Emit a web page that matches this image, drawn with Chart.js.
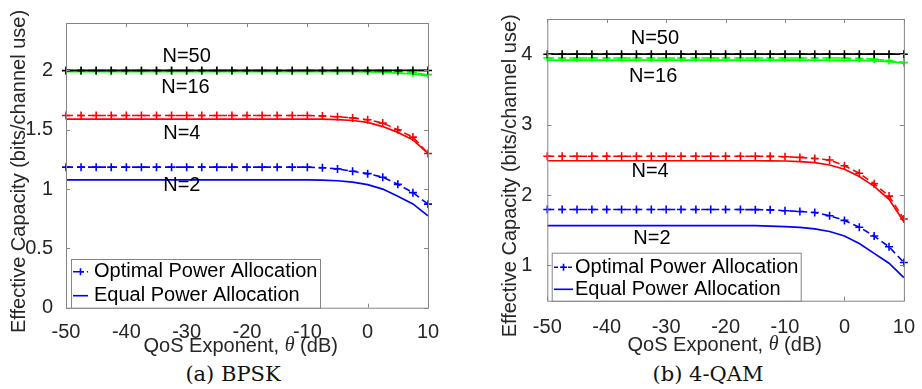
<!DOCTYPE html>
<html>
<head>
<meta charset="utf-8">
<script src="https://cdn.jsdelivr.net/npm/chart.js@4.4.1/dist/chart.umd.min.js"></script>
<style>
  body { margin: 0; background: #fff; width: 922px; height: 389px; position: relative; overflow: hidden; }
  .box { position: absolute; top: 0; }
  .cap { position: absolute; top: 362px; font-family: "DejaVu Serif", "Liberation Serif", serif; font-size: 21px; color: #111; text-align: center; width: 300px; }
</style>
</head>
<body>
<div class="box" style="left:0px"><canvas id="bpsk" width="461" height="360"></canvas></div>
<div class="box" style="left:461px"><canvas id="qam" width="461" height="360"></canvas></div>
<div class="cap" style="left:83px">(a) BPSK</div>
<div class="cap" style="left:558px">(b) 4-QAM</div>
<script>
// QoS exponent (dB)
var theta = [-50, -47.5, -45, -42.5, -40, -37.5, -35, -32.5, -30, -27.5, -25, -22.5, -20,
    -17.5, -15, -12.5, -10, -7.5, -5, -2.5, 0, 2.5, 5, 7.5, 10];
var xTicks = [-50, -40, -30, -20, -10, 0, 10];
var bpskTicks = [0, 0.5, 1, 1.5, 2];
var qamTicks = [1, 2, 3, 4];
var groups = ['N=50', 'N=16', 'N=4', 'N=2'];
var groupColors = ['#000000', '#00ff00', '#ff0000', '#0000ff'];
var legendLabels = ['Optimal Power Allocation', 'Equal Power Allocation'];

// (a) BPSK
var bpskOpt50 = [2, 2, 2, 2, 2, 2, 2, 2, 2, 2, 2, 2, 2, 2, 2, 2, 2, 2, 2, 2, 2, 2, 2, 2, 2];
var bpskEq50 = [2, 2, 2, 2, 2, 2, 2, 2, 2, 2, 2, 2, 2, 2, 2, 2, 2, 2, 2, 2, 2, 2, 2, 2, 2];
var bpskOpt16 = [1.995, 1.995, 1.995, 1.995, 1.995, 1.995, 1.995, 1.995, 1.995, 1.995, 1.995, 1.995, 1.995,
    1.995, 1.995, 1.995, 1.995, 1.995, 1.995, 1.995, 1.994, 1.993, 1.99, 1.98, 1.965];
var bpskEq16 = [1.99, 1.99, 1.99, 1.99, 1.99, 1.99, 1.99, 1.99, 1.99, 1.99, 1.99, 1.99, 1.99,
    1.99, 1.99, 1.99, 1.99, 1.99, 1.99, 1.989, 1.988, 1.985, 1.978, 1.97, 1.955];
var bpskOpt4 = [1.62, 1.62, 1.62, 1.62, 1.62, 1.62, 1.62, 1.62, 1.62, 1.62, 1.62, 1.62, 1.62,
    1.62, 1.62, 1.62, 1.62, 1.617, 1.61, 1.6, 1.585, 1.556, 1.5, 1.438, 1.3];
var bpskEq4 = [1.59, 1.59, 1.59, 1.59, 1.59, 1.59, 1.59, 1.59, 1.59, 1.59, 1.59, 1.59, 1.59,
    1.59, 1.59, 1.59, 1.59, 1.589, 1.586, 1.578, 1.562, 1.527, 1.478, 1.415, 1.3];
var bpskOpt2 = [1.185, 1.185, 1.185, 1.185, 1.185, 1.185, 1.185, 1.185, 1.185, 1.185, 1.185, 1.185, 1.185,
    1.185, 1.185, 1.185, 1.185, 1.18, 1.17, 1.15, 1.13, 1.1, 1.04, 0.97, 0.873];
var bpskEq2 = [1.078, 1.078, 1.078, 1.078, 1.078, 1.078, 1.078, 1.078, 1.078, 1.078, 1.078, 1.078, 1.078,
    1.078, 1.078, 1.078, 1.077, 1.075, 1.07, 1.058, 1.038, 1.0, 0.94, 0.875, 0.774];

// (b) 4-QAM
var qamOpt50 = [4, 4, 4, 4, 4, 4, 4, 4, 4, 4, 4, 4, 4, 4, 4, 4, 4, 4, 4, 4, 4, 4, 4, 4, 4];
var qamEq50 = [4, 4, 4, 4, 4, 4, 4, 4, 4, 4, 4, 4, 4, 4, 4, 4, 4, 4, 4, 4, 4, 4, 4, 4, 4];
var qamOpt16 = [3.947, 3.947, 3.947, 3.947, 3.947, 3.947, 3.947, 3.947, 3.947, 3.947, 3.947, 3.947, 3.947,
    3.947, 3.947, 3.947, 3.947, 3.947, 3.946, 3.946, 3.945, 3.94, 3.93, 3.91, 3.88];
var qamEq16 = [3.915, 3.915, 3.915, 3.915, 3.915, 3.915, 3.915, 3.915, 3.915, 3.915, 3.915, 3.915, 3.915,
    3.915, 3.915, 3.915, 3.915, 3.915, 3.915, 3.914, 3.913, 3.912, 3.905, 3.895, 3.877];
var qamOpt4 = [2.552, 2.552, 2.552, 2.552, 2.552, 2.552, 2.552, 2.552, 2.552, 2.552, 2.552, 2.552, 2.552,
    2.552, 2.551, 2.55, 2.545, 2.535, 2.52, 2.497, 2.417, 2.31, 2.16, 1.985, 1.66];
var qamEq4 = [2.487, 2.487, 2.487, 2.487, 2.487, 2.487, 2.487, 2.487, 2.487, 2.487, 2.487, 2.487, 2.487,
    2.487, 2.487, 2.486, 2.484, 2.476, 2.46, 2.427, 2.367, 2.264, 2.124, 1.939, 1.622];
var qamOpt2 = [1.795, 1.795, 1.795, 1.795, 1.795, 1.795, 1.795, 1.795, 1.795, 1.795, 1.795, 1.795, 1.795,
    1.794, 1.793, 1.79, 1.778, 1.767, 1.753, 1.706, 1.64, 1.544, 1.418, 1.265, 1.042];
var qamEq2 = [1.566, 1.566, 1.566, 1.566, 1.567, 1.567, 1.567, 1.567, 1.567, 1.567, 1.567, 1.567, 1.567,
    1.566, 1.565, 1.56, 1.552, 1.54, 1.52, 1.483, 1.418, 1.311, 1.172, 1.032, 0.828];

var font = "'Liberation Sans', Arial, sans-serif";
var textColor = '#262626';
var axisColor = '#858585';

function pts(ys) {
    return theta.map(function (t, i) { return {x: t, y: ys[i]}; });
}

function series(opt, eq, color) {
    return [{
        data: pts(opt), borderColor: color, borderWidth: 1.6, borderDash: [7, 4],
        pointStyle: 'cross', pointRadius: 4, pointBorderWidth: 1.6, pointBorderColor: color, clip: 8
    }, {
        data: pts(eq), borderColor: color, borderWidth: 1.7, pointRadius: 0, clip: 8
    }];
}

// axes box, inward ticks, curve labels, titles, legend
var frame = {
    id: 'frame',
    afterDraw: function (chart, args, o) {
        var ctx = chart.ctx, a = chart.chartArea, xs = chart.scales.x, ys = chart.scales.y;
        ctx.save();
        ctx.strokeStyle = axisColor;
        ctx.lineWidth = 1;
        ctx.strokeRect(a.left + 0.5, a.top + 0.5, a.right - a.left, a.bottom - a.top);
        ctx.beginPath();
        xs.ticks.forEach(function (t) {
            var px = Math.round(xs.getPixelForValue(t.value)) + 0.5;
            ctx.moveTo(px, a.bottom); ctx.lineTo(px, a.bottom - 4);
            ctx.moveTo(px, a.top); ctx.lineTo(px, a.top + 4);
        });
        ys.ticks.forEach(function (t) {
            var py = Math.round(ys.getPixelForValue(t.value)) + 0.5;
            ctx.moveTo(a.left, py); ctx.lineTo(a.left + 4, py);
            ctx.moveTo(a.right, py); ctx.lineTo(a.right - 4, py);
        });
        ctx.stroke();

        // N labels
        ctx.fillStyle = '#000';
        ctx.font = '20px ' + font;
        ctx.textAlign = 'center';
        ctx.textBaseline = 'middle';
        groups.forEach(function (g, i) {
            ctx.fillText(g, xs.getPixelForValue(o.labelX[i]), ys.getPixelForValue(o.labelY[i]));
        });

        // axis titles
        ctx.fillStyle = textColor;
        ctx.save();
        ctx.translate(o.yTitle[0], o.yTitle[1]);
        ctx.rotate(-Math.PI / 2);
        ctx.fillText('Effective Capacity (bits/channel use)', 0, 0);
        ctx.restore();
        var p1 = 'QoS Exponent, ', p2 = '\u03b8', p3 = ' (dB)';
        ctx.font = '20px ' + font;
        var w1 = ctx.measureText(p1).width, w3 = ctx.measureText(p3).width;
        ctx.font = 'italic 20px "Liberation Serif", serif';
        var w2 = ctx.measureText(p2).width;
        var x0 = o.xTitle[0] - (w1 + w2 + w3) / 2;
        ctx.textAlign = 'left';
        ctx.font = '20px ' + font;
        ctx.fillText(p1, x0, o.xTitle[1]);
        ctx.fillText(p3, x0 + w1 + w2, o.xTitle[1]);
        ctx.font = 'italic 20px "Liberation Serif", serif';
        ctx.fillText(p2, x0 + w1, o.xTitle[1]);

        // legend
        var L = o.legend;
        ctx.fillStyle = '#fff';
        ctx.fillRect(L.box[0], L.box[1], L.box[2] - L.box[0], L.box[3] - L.box[1]);
        ctx.strokeStyle = axisColor;
        ctx.lineWidth = 1;
        ctx.strokeRect(L.box[0] + 0.5, L.box[1] + 0.5, L.box[2] - L.box[0], L.box[3] - L.box[1]);
        var blue = groupColors[3];
        ctx.strokeStyle = blue;
        ctx.lineWidth = 1.6;
        ctx.setLineDash([4, 3]);
        ctx.beginPath(); ctx.moveTo(L.sample[0], L.rows[0]); ctx.lineTo(L.sample[1], L.rows[0]); ctx.stroke();
        ctx.setLineDash([]);
        var cx = (L.sample[0] + L.sample[1]) / 2;
        ctx.beginPath();
        ctx.moveTo(cx - 3.5, L.rows[0]); ctx.lineTo(cx + 3.5, L.rows[0]);
        ctx.moveTo(cx, L.rows[0] - 3.5); ctx.lineTo(cx, L.rows[0] + 3.5);
        ctx.stroke();
        ctx.beginPath(); ctx.moveTo(L.sample[0], L.rows[1]); ctx.lineTo(L.sample[1], L.rows[1]); ctx.stroke();
        ctx.fillStyle = '#000';
        ctx.font = '20px ' + font;
        ctx.textAlign = 'left';
        ctx.fillText(legendLabels[0], L.textX, L.rows[0]);
        ctx.fillText(legendLabels[1], L.textX, L.rows[1]);
        ctx.restore();
    }
};

function makeChart(id, c) {
    return new Chart(id, {
        type: 'line',
        data: {
            datasets: [].concat(
                series(c.data[0], c.data[1], groupColors[0]),
                series(c.data[2], c.data[3], groupColors[1]),
                series(c.data[4], c.data[5], groupColors[2]),
                series(c.data[6], c.data[7], groupColors[3]))
        },
        options: {
            responsive: false,
            animation: false,
            devicePixelRatio: 1,
            layout: {padding: {top: c.padTop, right: c.padRight, left: 0, bottom: 0}},
            elements: {line: {tension: 0}},
            plugins: {legend: {display: false}, tooltip: {enabled: false}, frame: c.frame},
            scales: {
                x: {
                    type: 'linear', min: -50, max: 10,
                    grid: {display: false}, border: {display: false},
                    afterBuildTicks: function (s) { s.ticks = xTicks.map(function (v) { return {value: v}; }); },
                    afterFit: function (s) { s.height = c.xHeight; },
                    ticks: {color: textColor, font: {family: font, size: 20}, padding: c.xPad,
                        maxRotation: 0, autoSkip: false, callback: function (v) { return String(v); }}
                },
                y: {
                    min: c.yMin, max: c.yMax,
                    grid: {display: false}, border: {display: false},
                    afterBuildTicks: function (s) { s.ticks = c.yTicks.map(function (v) { return {value: v}; }); },
                    afterFit: function (s) { s.width = c.yWidth; },
                    ticks: {color: textColor, font: {family: font, size: 20}, padding: c.yPad,
                        autoSkip: false, callback: function (v) { return String(v); }}
                }
            }
        },
        plugins: [frame]
    });
}

makeChart('bpsk', {
    data: [bpskOpt50, bpskEq50, bpskOpt16, bpskEq16, bpskOpt4, bpskEq4, bpskOpt2, bpskEq2],
    yMin: 0, yMax: 2.4, yTicks: bpskTicks,
    padTop: 23, padRight: 33, yWidth: 66, xHeight: 52.3, xPad: 5, yPad: 5,
    frame: {
        labelX: [-30, -30.2, -30.8, -30.8], labelY: [2.115, 1.86, 1.47, 1.027],
        yTitle: [19.5, 171.5], xTitle: [240.7, 346],
        legend: {box: [71, 259, 320, 307.7], rows: [271.7, 295.7], sample: [73, 88], textX: 94}
    }
});

makeChart('qam', {
    data: [qamOpt50, qamEq50, qamOpt16, qamEq16, qamOpt4, qamEq4, qamOpt2, qamEq2],
    yMin: 0.5, yMax: 4.5, yTicks: qamTicks,
    padTop: 17.3, padRight: 12.7, yWidth: 86.3, xHeight: 59.3, xPad: 7, yPad: 7,
    frame: {
        labelX: [-31.9, -32.2, -32.7, -32.4], labelY: [4.226, 3.68, 2.333, 1.38],
        yTitle: [49, 175.8], xTitle: [263.7, 345],
        legend: {box: [90.7, 252.7, 339.7, 300.7], rows: [267.3, 289.3], sample: [93, 112], textX: 114}
    }
});
</script>
</body>
</html>
